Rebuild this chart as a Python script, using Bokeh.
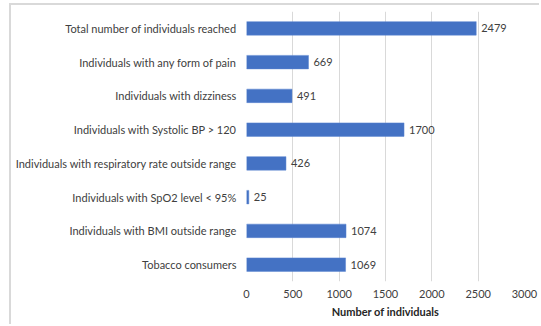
from bokeh.plotting import figure
from bokeh.models import FactorRange, Range1d, ColumnDataSource, LabelSet, FixedTicker
from bokeh.core.properties import value
from bokeh.embed import file_html
from bokeh.resources import INLINE

categories = [
    "Total number of individuals reached",
    "Individuals with any form of pain",
    "Individuals with dizziness",
    "Individuals with Systolic BP > 120",
    "Individuals with respiratory rate outside range",
    "Individuals with SpO2 level < 95%",
    "Individuals with BMI outside range",
    "Tobacco consumers",
]
values = [2479, 669, 491, 1700, 426, 25, 1074, 1069]
x_ticks = [0, 500, 1000, 1500, 2000, 2500, 3000]
x_title = "Number of individuals"

FONT = "Lato"
TXT = "#404040"
FS = "11px"

src = ColumnDataSource(dict(cat=categories, val=values, lab=[str(v) for v in values]))

# canvas starts at x=11, y=5 (after margin + 2px border)
p = figure(
    width=530, height=321,
    y_range=FactorRange(factors=list(reversed(categories)), range_padding=0),
    x_range=Range1d(0, 3000),
    output_backend="svg", toolbar_location=None,
    min_border_left=235, min_border_right=17, min_border_top=6, min_border_bottom=45,
)
p.styles = {"margin-left": "9px", "margin-top": "3px",
            "border-left": "2px solid #d9d9d9", "border-top": "2px solid #d9d9d9"}
p.hbar(y="cat", right="val", left=0, height=0.4, source=src,
       fill_color="#4472C4", line_color="#5a85d0", line_width=0.5)

labels = LabelSet(x="val", y="cat", text="lab", source=src, x_offset=5,
                  text_baseline="middle", text_font=value(FONT), text_font_size=FS,
                  text_color=TXT)
p.add_layout(labels)

p.outline_line_color = None
p.ygrid.grid_line_color = None
p.xgrid.grid_line_color = "#d9d9d9"
p.xaxis.ticker = FixedTicker(ticks=x_ticks)
for ax in (p.xaxis[0], p.yaxis[0]):
    ax.axis_line_color = None
    ax.major_tick_line_color = None
    ax.minor_tick_line_color = None
    ax.major_tick_out = 0
    ax.major_tick_in = 0
    ax.major_label_text_font = FONT
    ax.major_label_text_font_size = FS
    ax.major_label_text_color = TXT
p.yaxis.major_label_standoff = 10
p.xaxis.major_label_standoff = 8
p.xaxis.axis_label = x_title
p.xaxis.axis_label_text_font = FONT
p.xaxis.axis_label_text_font_size = FS
p.xaxis.axis_label_text_font_style = "bold"
p.xaxis.axis_label_text_color = "#262626"
p.xaxis.axis_label_standoff = 4

open("out.html", "w").write(file_html(p, INLINE))
